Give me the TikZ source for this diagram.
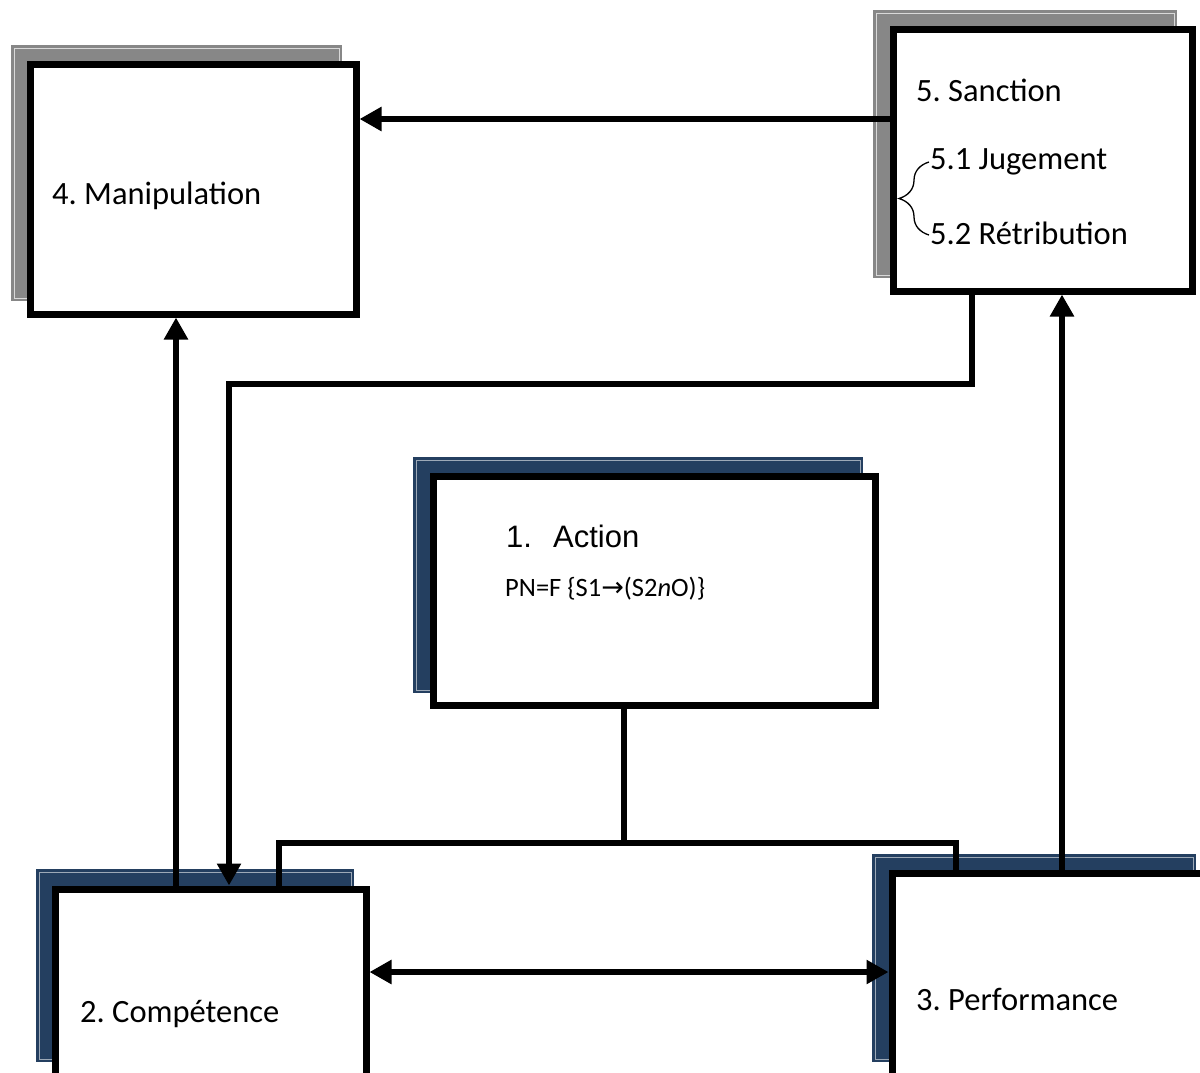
\documentclass[tikz,border=0pt]{standalone}
\usepackage{fontspec}
\setmainfont{Carlito}
\newfontfamily\arialfont{Liberation Sans}
\newfontfamily\arrfont{DejaVu Sans}
\usetikzlibrary{arrows.meta,decorations.pathreplacing}
\definecolor{shgray}{HTML}{878787}
\definecolor{shblue}{HTML}{243F60}
\frenchspacing

\begin{document}
\begin{tikzpicture}[
        x=1pt, y=-1pt,
        box/.style={draw, rectangle, line width=7pt, fill=white, inner sep=0pt},
        lbl/.style={anchor=west, inner sep=0pt, font=\fontsize{32.5}{38}\selectfont},
        conn/.style={line width=6.5pt},
        arr/.style={conn, -{Triangle[length=22pt,width=23pt]}},
        dblarr/.style={conn, {Triangle[length=22pt,width=23pt]}-{Triangle[length=22pt,width=23pt]}}
    ]
    \useasboundingbox (0,0) rectangle (1200,1072);
    \clip (0,0) rectangle (1200,1072);

    % shadows
    \fill[shgray] (11,45) rectangle (342,301);
    \draw[gray!30, thin] (14,48) rectangle (339,298);
    \fill[shgray] (873,10) rectangle (1177,278);
    \draw[gray!30, thin] (876,13) rectangle (1174,275);
    \foreach \xa/\ya/\xb/\yb in {413/457/863/693, 36/869/354/1062, 872/854/1196/1062} {
        \fill[shblue] (\xa,\ya) rectangle (\xb,\yb);
        \draw[shblue!45!white, thin] (\xa+3,\ya+3) rectangle (\xb-3,\yb-3);
    }

    % boxes
    \node[box, minimum width=326pt, minimum height=250pt] (manip) at (193,189) {};
    \node[box, minimum width=299pt, minimum height=262pt] (sanction) at (1042.5,160) {};
    \node[box, minimum width=442pt, minimum height=229pt] (action) at (654,590.5) {};
    \node[box, minimum width=311pt, minimum height=201pt] (comp) at (210.5,989.5) {};
    \node[box, minimum width=323pt, minimum height=217pt] (perf) at (1053.5,981.5) {};

    % texts
    \node[lbl] (manip-t) at (52,196) {4. Manipulation};
    \node[lbl] (sanc-t) at (916,90) {5. Sanction};
    \node[lbl] (jug-t) at (930,162) {5.1 Jugement};
    \node[lbl] (retr-t) at (930,233) {5.2 Rétribution};
    \node[lbl, font=\arialfont\fontsize{31}{36}\selectfont] (act-t) at (506,536) {\makebox[47pt][l]{1.}Action};
    \node[lbl, font=\fontsize{26.5}{30}\selectfont] (pn-t) at (505,589)
        {PN=F \{S1{\arrfont\fontsize{27}{30}\selectfont →}(S2\textit{n}O)\}};
    \node[lbl] (comp-t) at (80,1014) {2. Compétence};
    \node[lbl] (perf-t) at (916,999) {3. Performance};

    \draw[line width=1.3pt, decorate, decoration={brace, amplitude=30pt}] (929,235) -- (929,162);

    % connectors
    \draw[arr] ([yshift=41pt]sanction.west) -- ([yshift=41pt]sanction.west -| manip.east);
    \draw[arr] ([xshift=-34.5pt]comp.north) -- ([xshift=-34.5pt]comp.north |- manip.south);
    \coordinate (bend) at (229,384);
    \draw[arr] ([xshift=-70.5pt]sanction.south) |- (bend) -- (bend |- comp.north);
    \draw[arr] ([xshift=8.5pt]perf.north) -- ([xshift=8.5pt]perf.north |- sanction.south);
    \coordinate (fork) at (624,843);
    \draw[conn] (fork |- action.south) -- (fork);
    \draw[conn] ([xshift=68.5pt]comp.north) |- (fork) -| ([xshift=-97.5pt]perf.north);
    \draw[dblarr] ([yshift=17.5pt]comp.east) -- ([yshift=17.5pt]comp.east -| perf.west);
\end{tikzpicture}
\end{document}
